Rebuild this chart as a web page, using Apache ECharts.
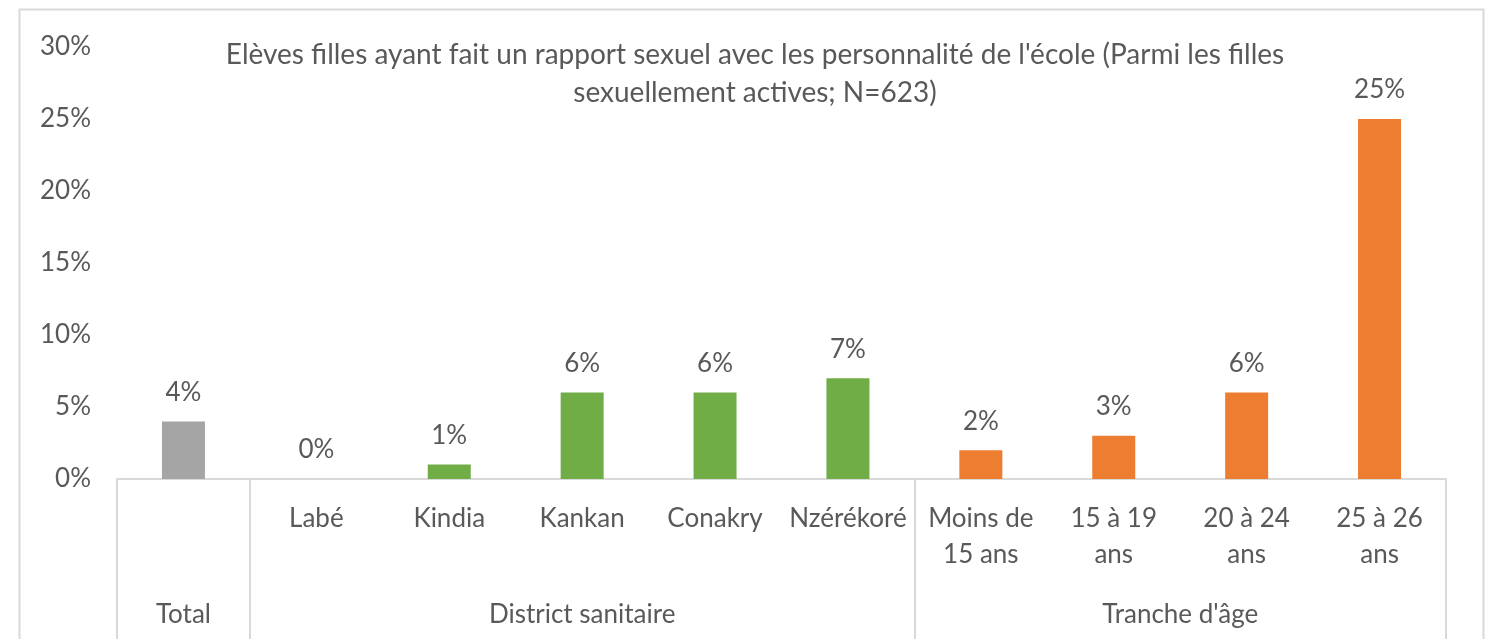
<!DOCTYPE html>
<html>
<head>
<meta charset="utf-8">
<script src="https://cdn.jsdelivr.net/npm/echarts@6/dist/echarts.min.js"></script>
<style>
html,body{margin:0;padding:0;background:#fff;}
#chart{width:1488px;height:639px;}
</style>
</head>
<body>
<div id="chart"></div>
<script>
// ---- data ----
const titleText = "Elèves filles ayant fait un rapport sexuel avec les personnalité de l'école (Parmi les filles\nsexuellement actives; N=623)";
const categories = ['', 'Labé', 'Kindia', 'Kankan', 'Conakry', 'Nzérékoré', 'Moins de\n15 ans', '15 à 19\nans', '20 à 24\nans', '25 à 26\nans'];
const values = [4, 0, 1, 6, 6, 7, 2, 3, 6, 25];
const groupOf = [0, 1, 1, 1, 1, 1, 2, 2, 2, 2];
const groupNames = ['Total', 'District sanitaire', "Tranche d'âge"];
const groupColors = ['#A5A5A5', '#70AD47', '#ED7D31'];
const groupBoundaries = [0, 1, 6, 10];
const groupCenters = [0.5, 3.5, 8];
const yTicks = [0, 5, 10, 15, 20, 25, 30];

const FONT = 'Lato';
const TXT = '#595959';
const LINE = '#D9D9D9';

const chart = echarts.init(document.getElementById('chart'), null, {renderer: 'canvas'});
chart.setOption({
  backgroundColor: '#fff',
  animation: false,
  textStyle: {fontFamily: FONT},
  title: {
    text: titleText,
    left: 750,
    top: 31,
    textAlign: 'center',
    textStyle: {fontFamily: FONT, fontSize: 28, fontWeight: 'normal', color: TXT, lineHeight: 38}
  },
  graphic: [{
    type: 'rect', left: 17, top: 7, z: -1, silent: true,
    shape: {width: 1464, height: 660},
    style: {fill: null, stroke: LINE, lineWidth: 2}
  }],
  grid: {left: 117, right: 42, top: 47, bottom: 160, containLabel: false},
  xAxis: [{
    type: 'category',
    data: categories,
    position: 'bottom',
    axisLine: {show: true, lineStyle: {color: LINE, width: 2}},
    axisTick: {show: false},
    axisLabel: {interval: 0, color: TXT, fontSize: 26, fontFamily: FONT, margin: 22, lineHeight: 36}
  }, {
    type: 'value',
    position: 'bottom',
    min: 0, max: 10,
    axisLine: {show: false},
    splitLine: {show: false},
    axisTick: {show: true, customValues: groupBoundaries, length: 170, inside: false,
      lineStyle: {color: LINE, width: 2}},
    axisLabel: {show: true, customValues: groupCenters, color: TXT, fontSize: 26, fontFamily: FONT,
      margin: 118, lineHeight: 36,
      formatter: function (v) { return groupNames[groupCenters.indexOf(v)]; }}
  }],
  yAxis: {
    type: 'value',
    min: yTicks[0], max: yTicks[yTicks.length - 1], interval: yTicks[1] - yTicks[0],
    axisLine: {show: false},
    axisTick: {show: false},
    splitLine: {show: false},
    axisLabel: {color: TXT, fontSize: 26, fontFamily: FONT, margin: 26, formatter: '{value}%'}
  },
  series: [{
    type: 'bar',
    xAxisIndex: 0,
    barWidth: 43,
    data: values.map(function (v, i) {
      return {value: v, itemStyle: {color: groupColors[groupOf[i]]}};
    }),
    label: {show: true, position: 'top', distance: 16, color: TXT, fontSize: 26, fontFamily: FONT,
      formatter: '{c}%'}
  }]
});
</script>
</body>
</html>
